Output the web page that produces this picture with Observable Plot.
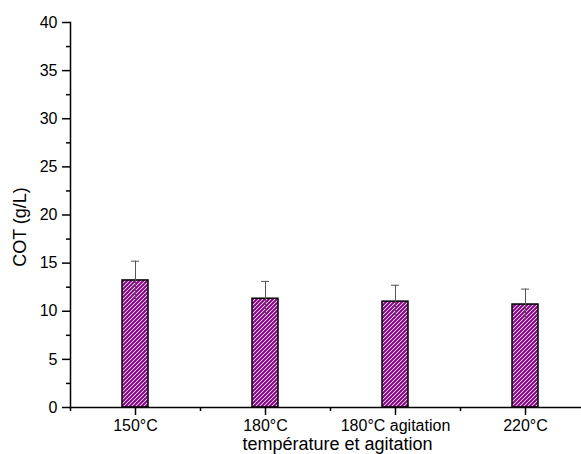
<!DOCTYPE html>
<html>
<head>
<meta charset="utf-8">
<script src="https://cdn.jsdelivr.net/npm/d3@7"></script>
<script src="https://cdn.jsdelivr.net/npm/@observablehq/plot@0.6"></script>
<style>
  html, body { margin: 0; padding: 0; background: white; }
  #chart { width: 581px; height: 454px; overflow: hidden; }
</style>
</head>
<body>
<div id="chart"></div>
<script>
const categories = ["150°C", "180°C", "180°C agitation", "220°C"];
const cotValues = [13.2, 11.3, 11.0, 10.7];
const cotErrors = [2.0, 1.8, 1.7, 1.6];
const yMajorTicks = [0, 5, 10, 15, 20, 25, 30, 35, 40];
const yMinorTicks = [2.5, 7.5, 12.5, 17.5, 22.5, 27.5, 32.5, 37.5];
const xTitle = "température et agitation";
const yTitle = "COT (g/L)";

const data = categories.map((c, i) => ({cat: c, v: cotValues[i], e: cotErrors[i]}));

const chart = Plot.plot({
  width: 581,
  height: 454,
  marginLeft: 70,
  marginRight: 0,
  marginTop: 22,
  marginBottom: 47,
  style: {fontFamily: "'Liberation Sans', Arial, sans-serif", fontSize: "16px", color: "black", background: "white", overflow: "visible"},
  x: {domain: categories, range: [70, 590], padding: 0},
  y: {domain: [0, 40]},
  marks: [
    Plot.barY(data, {x: "cat", y: "v", fill: "url(#hatch)", stroke: "black", strokeWidth: 1.5, insetLeft: 52, insetRight: 52}),
    Plot.ruleX(data, {x: "cat", y1: d => d.v - d.e, y2: d => d.v + d.e, stroke: "#555", strokeWidth: 1}),
    Plot.tickY(data, {x: "cat", y: d => d.v + d.e, insetLeft: 61, insetRight: 61, stroke: "#555", strokeWidth: 1}),
    Plot.axisY({ticks: yMajorTicks, tickSize: 8, tickPadding: 5, label: null, strokeWidth: 1.5}),
    Plot.axisY({ticks: yMinorTicks, tickSize: 4, tickFormat: () => "", label: null, strokeWidth: 1.5}),
    Plot.axisX({tickSize: 8, tickPadding: 4, label: null, strokeWidth: 1.5}),
    Plot.axisX({tickSize: 4, tickFormat: () => "", label: null, strokeWidth: 1.5, dx: -65}),
    Plot.ruleY([0], {stroke: "black", strokeWidth: 1.5}),
    Plot.frame({anchor: "left", stroke: "black", strokeWidth: 1.5})
  ]
});

const svg = d3.select(chart);
const defs = svg.insert("defs", ":first-child");
const pat = defs.append("pattern")
  .attr("id", "hatch")
  .attr("patternUnits", "userSpaceOnUse")
  .attr("width", 4)
  .attr("height", 4);
pat.append("rect").attr("width", 4).attr("height", 4).attr("fill", "white");
pat.append("path")
  .attr("d", "M-1,1 l2,-2 M0,4 l4,-4 M3,5 l2,-2")
  .attr("stroke", "#880088")
  .attr("stroke-width", 2)
  .attr("fill", "none");

svg.append("text")
  .attr("x", 337.5).attr("y", 450)
  .attr("text-anchor", "middle")
  .attr("font-size", 18)
  .attr("fill", "black")
  .text(xTitle);

svg.append("text")
  .attr("transform", "translate(26,227) rotate(-90)")
  .attr("text-anchor", "middle")
  .attr("font-size", 18)
  .attr("fill", "black")
  .text(yTitle);

document.getElementById("chart").appendChild(chart);
</script>
</body>
</html>
